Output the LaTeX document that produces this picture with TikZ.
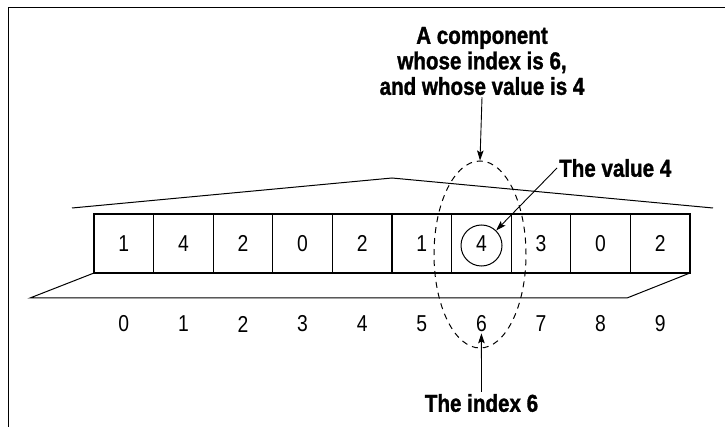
\documentclass[tikz,border=0pt]{standalone}
\usepackage{fontspec}
\setmainfont[FakeStretch=0.84,BoldFeatures={FakeBold=1.2}]{Liberation Sans}
\usetikzlibrary{arrows.meta,shapes.geometric}
\begin{document}
\begin{tikzpicture}[x=1pt,y=-1pt,
  cellbox/.style={draw,line width=1.2pt,minimum width=59.6pt,minimum height=59pt,inner sep=0pt,font=\fontsize{23}{25}\selectfont},
  idxlbl/.style={inner sep=1pt,font=\fontsize{23}{25}\selectfont},
  lbl/.style={font=\bfseries\fontsize{24.5}{25.5}\selectfont,align=center,inner sep=2pt},
  arr/.style={line width=0.9pt,-{Stealth[length=10pt,width=6.5pt,inset=2pt]}},
  thin/.style={line width=1pt}]
\useasboundingbox (0,0) rectangle (725,427);
% frame
\draw[thin] (725,7.5) -- (8,7.5) -- (8,427);
% roof
\draw[thin] (72,208) -- (392,178) -- (713,208);
% base parallelogram
\draw[thin] (94,273) -- (30,298) -- (627,298) -- (690,273);
% cells
\foreach \v [count=\i from 0] in {1,4,2,0,2,1,4,3,0,2}{
  \node[cellbox] (c\i) at ({94+59.6*(\i+0.5)},243.5) {\v};
  \node[idxlbl] (i\i) at ({94+59.6*(\i+0.5)},324) {\i};
}
% circle round value
\node[draw,circle,thin,minimum size=41pt,inner sep=0pt] (v) at (481.5,245.5) {};
% dashed ellipse
\node[draw,ellipse,dashed,thin,dash pattern=on 6pt off 5pt,minimum width=92pt,minimum height=187pt,inner sep=0pt] (ell) at (480,254.5) {};
% labels
\node[lbl] (comp) at (482,61) {A component\\whose index is 6,\\and whose value is 4};
\node[lbl,anchor=west] (valtxt) at (557,168) {The value 4};
\node[lbl] (idx) at (481.5,403) {The index 6};
% arrows
\draw[arr] (comp.south) -- (ell.north);
\draw[arr] (valtxt.west) -- (v);
\draw[arr] (idx.north) -- (i6.south);
\end{tikzpicture}
\end{document}
